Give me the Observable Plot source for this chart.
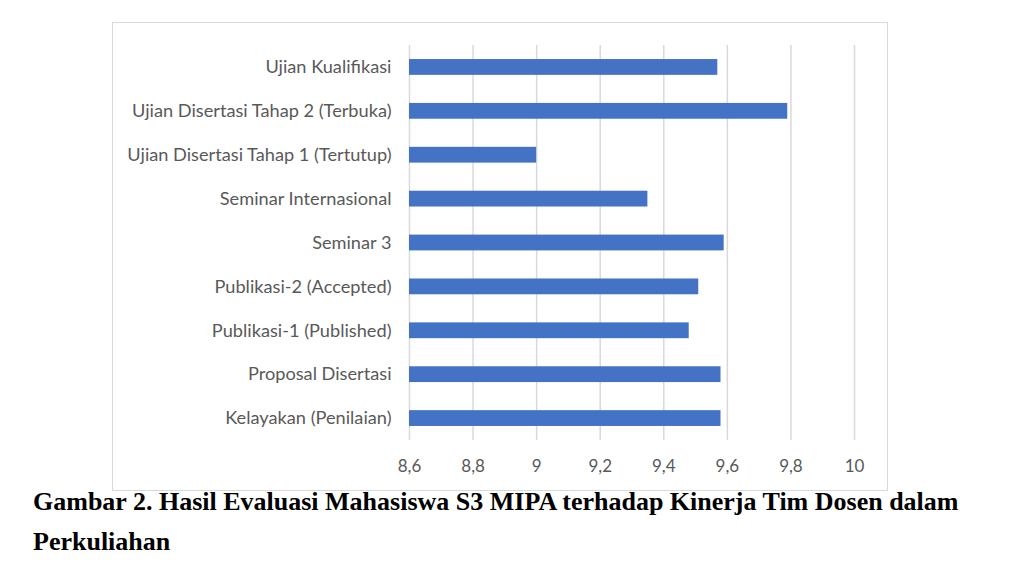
<!DOCTYPE html>
<html>
<head>
<meta charset="utf-8">
<script src="https://cdn.jsdelivr.net/npm/d3@7"></script>
<script src="https://cdn.jsdelivr.net/npm/@observablehq/plot@0.6"></script>
<style>
  body { margin: 0; background: #fff; }
  #wrap { position: relative; width: 1024px; height: 569px; }
  #frame { position: absolute; left: 112px; top: 22px; width: 774px; height: 467px; border: 1px solid #d9d9d9; }
  #chart { position: absolute; left: 0; top: 0; }
  #caption { position: absolute; left: 33px; top: 482px; width: 980px; font-family: "Liberation Serif", "Times New Roman", serif; font-weight: bold; font-size: 26px; line-height: 40px; color: #000; }
</style>
</head>
<body>
<div id="wrap">
  <div id="frame"></div>
  <div id="chart"></div>
  <div id="caption">Gambar 2. Hasil Evaluasi Mahasiswa S3 MIPA terhadap Kinerja Tim Dosen dalam Perkuliahan</div>
</div>
<script>
const categories = [
  "Ujian Kualifikasi",
  "Ujian Disertasi Tahap 2 (Terbuka)",
  "Ujian Disertasi Tahap 1 (Tertutup)",
  "Seminar Internasional",
  "Seminar 3",
  "Publikasi-2 (Accepted)",
  "Publikasi-1 (Published)",
  "Proposal Disertasi",
  "Kelayakan (Penilaian)"
];
const values = [9.57, 9.79, 9.0, 9.35, 9.59, 9.51, 9.48, 9.58, 9.58];
const xTicks = [8.6, 8.8, 9.0, 9.2, 9.4, 9.6, 9.8, 10];

const data = categories.map((c, i) => ({category: c, value: values[i]}));
const fmt = v => String(+v.toFixed(1)).replace(".", ",");

const chart = Plot.plot({
  width: 1024,
  height: 495,
  marginLeft: 409,
  marginRight: 170,
  marginTop: 45,
  marginBottom: 55,
  style: {fontFamily: "Lato, 'Open Sans', sans-serif", fontSize: "16px", color: "#595959", background: "transparent"},
  x: {domain: [8.6, 10], ticks: xTicks, tickFormat: fmt, label: null},
  y: {domain: categories, label: null, paddingInner: 0.64, paddingOuter: 0.32, round: false},
  marks: [
    Plot.gridX(xTicks, {stroke: "#d9d9d9", strokeOpacity: 1, strokeWidth: 1.5}),
    Plot.barX(data, {x1: 8.6, x2: "value", y: "category", fill: "#4472c4"}),
    Plot.axisX({ticks: xTicks, tickFormat: fmt, tickSize: 0, tickPadding: 19, fontSize: 17, fill: "#595959"}),
    Plot.axisY({tickSize: 0, tickPadding: 18, fontSize: 18.2, fill: "#595959"})
  ]
});
document.getElementById("chart").appendChild(chart);
</script>
</body>
</html>
